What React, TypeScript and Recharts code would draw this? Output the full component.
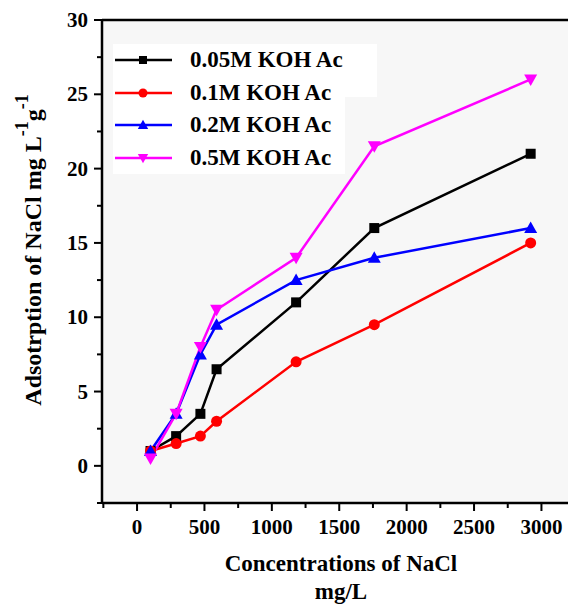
import { LineChart, Line, XAxis, YAxis, CartesianGrid, ReferenceLine, Label } from 'recharts';

// NaCl concentration (mg/L)
const conc = [100, 290, 470, 590, 1180, 1760, 2920];

// adsorption values for each KOH Ac concentration
const koh005 = [1, 2, 3.5, 6.5, 11, 16, 21];
const koh01 = [1, 1.5, 2, 3, 7, 9.5, 15];
const koh02 = [1, 3.5, 7.5, 9.5, 12.5, 14, 16];
const koh05 = [0.5, 3.5, 8, 10.5, 14, 21.5, 26];

const xTicks = [-250, 0, 250, 500, 750, 1000, 1250, 1500, 1750, 2000, 2250, 2500, 2750, 3000];
const yTicks = [-2.5, 0, 2.5, 5, 7.5, 10, 12.5, 15, 17.5, 20, 22.5, 25, 27.5, 30];

const SERIES = [
  { key: 'a', name: '0.05M KOH Ac', color: '#000000', shape: 'square', values: koh005 },
  { key: 'b', name: '0.1M KOH Ac', color: '#ff0000', shape: 'circle', values: koh01 },
  { key: 'c', name: '0.2M KOH Ac', color: '#0000ff', shape: 'up', values: koh02 },
  { key: 'd', name: '0.5M KOH Ac', color: '#ff00ff', shape: 'down', values: koh05 },
];

const data = conc.map((x, i) => {
  const row: any = { x };
  SERIES.forEach((s) => (row[s.key] = s.values[i]));
  return row;
});

const FONT = '"Liberation Serif", "Times New Roman", serif';

function Marker({ cx, cy, shape, color, r = 5 }: any) {
  if (cx == null || cy == null) return null;
  if (shape === 'square') return <rect x={cx - r} y={cy - r} width={2 * r} height={2 * r} fill={color} />;
  if (shape === 'circle') return <circle cx={cx} cy={cy} r={r + 0.5} fill={color} />;
  const h = r * 1.3;
  if (shape === 'up')
    return <polygon points={`${cx},${cy - h} ${cx - h},${cy + r} ${cx + h},${cy + r}`} fill={color} />;
  return <polygon points={`${cx},${cy + h} ${cx - h},${cy - r} ${cx + h},${cy - r}`} fill={color} />;
}

const XTick = ({ x, y, payload }: any) => {
  const major = payload.value % 500 === 0;
  return (
    <g>
      <line x1={x} x2={x} y1={y} y2={y + (major ? 8 : 5)} stroke="#000" strokeWidth={2} />
      {major && (
        <text x={x} y={y + 31} textAnchor="middle" fontSize={21} fontWeight="bold" fontFamily={FONT} fill="#000">
          {payload.value}
        </text>
      )}
    </g>
  );
};

const YTick = ({ x, y, payload }: any) => {
  const major = payload.value % 5 === 0;
  return (
    <g>
      <line x1={x} x2={x - (major ? 8 : 5)} y1={y} y2={y} stroke="#000" strokeWidth={2} />
      {major && (
        <text x={x - 14} y={y + 7} textAnchor="end" fontSize={21} fontWeight="bold" fontFamily={FONT} fill="#000">
          {payload.value}
        </text>
      )}
    </g>
  );
};

const XTitle = ({ viewBox }: any) => {
  const cx = 341;
  const y = viewBox.y;
  return (
    <g fontFamily={FONT} fontWeight="bold" fill="#000" textAnchor="middle">
      <text x={cx} y={y + 68} fontSize={23}>Concentrations of NaCl</text>
      <text x={cx} y={y + 96} fontSize={23}>mg/L</text>
    </g>
  );
};

const YTitle = () => (
  <text
    transform="translate(41, 250) rotate(-90)"
    textAnchor="middle"
    fontFamily={FONT}
    fontWeight="bold"
    fontSize={24}
    fill="#000"
  >
    Adsotrption of NaCl mg L
    <tspan dy={-13} fontSize={18}>-1</tspan>
    <tspan dy={13}>g</tspan>
    <tspan dy={-13} fontSize={18}>-1</tspan>
  </text>
);

function LegendBox() {
  return (
    <div style={{ position: 'absolute', left: 113, top: 44 }}>
      <div style={{ position: 'absolute', left: 0, top: 0, width: 264, height: 53, background: '#fff' }} />
      <div style={{ position: 'absolute', left: 0, top: 53, width: 232, height: 77, background: '#fff' }} />
      {SERIES.map((s, i) => (
        <div key={s.key} style={{ position: 'absolute', left: 2, top: i * 32.7, height: 32, display: 'flex', alignItems: 'center' }}>
          <svg width={57} height={32}>
            <line x1={0} x2={57} y1={16} y2={16} stroke={s.color} strokeWidth={2.5} />
            <Marker cx={28} cy={16} shape={s.shape} color={s.color} r={4} />
          </svg>
          <span
            style={{
              marginLeft: 18,
              fontFamily: FONT,
              fontWeight: 'bold',
              fontSize: 23,
              color: '#000',
              whiteSpace: 'nowrap',
            }}
          >
            {s.name}
          </span>
        </div>
      ))}
    </div>
  );
}

export default function App() {
  return (
    <div style={{ position: 'absolute', left: 0, top: 0, width: 568, height: 607, background: '#fff', overflow: 'hidden' }}>
      <LineChart width={568} height={607} data={data} margin={{ top: 20, right: 0, bottom: 0, left: 0 }}>
        <CartesianGrid horizontal={false} vertical={false} fill="#f7f7f7" />
        <XAxis
          dataKey="x"
          type="number"
          domain={[-260, 3197]}
          allowDataOverflow
          ticks={xTicks}
          interval={0}
          height={104}
          tickSize={0}
          tickMargin={0}
          tickLine={false}
          tick={<XTick />}
          axisLine={{ stroke: '#000', strokeWidth: 2.5 }}
        >
          <Label content={<XTitle />} />
        </XAxis>
        <YAxis
          type="number"
          domain={[-2.5, 30]}
          allowDataOverflow
          ticks={yTicks}
          interval={0}
          width={102}
          tickSize={0}
          tickMargin={0}
          tickLine={false}
          tick={<YTick />}
          axisLine={{ stroke: '#000', strokeWidth: 2.5 }}
        >
          <Label content={<YTitle />} />
        </YAxis>
        <ReferenceLine y={30} stroke="#000" strokeWidth={2.5} />
        {SERIES.map((s) => (
          <Line
            key={s.key}
            dataKey={s.key}
            name={s.name}
            stroke={s.color}
            strokeWidth={2.5}
            isAnimationActive={false}
            dot={(p: any) => <Marker key={`${s.key}-${p.index}`} cx={p.cx} cy={p.cy} shape={s.shape} color={s.color} />}
            activeDot={false}
          />
        ))}
      </LineChart>
      <LegendBox />
    </div>
  );
}
